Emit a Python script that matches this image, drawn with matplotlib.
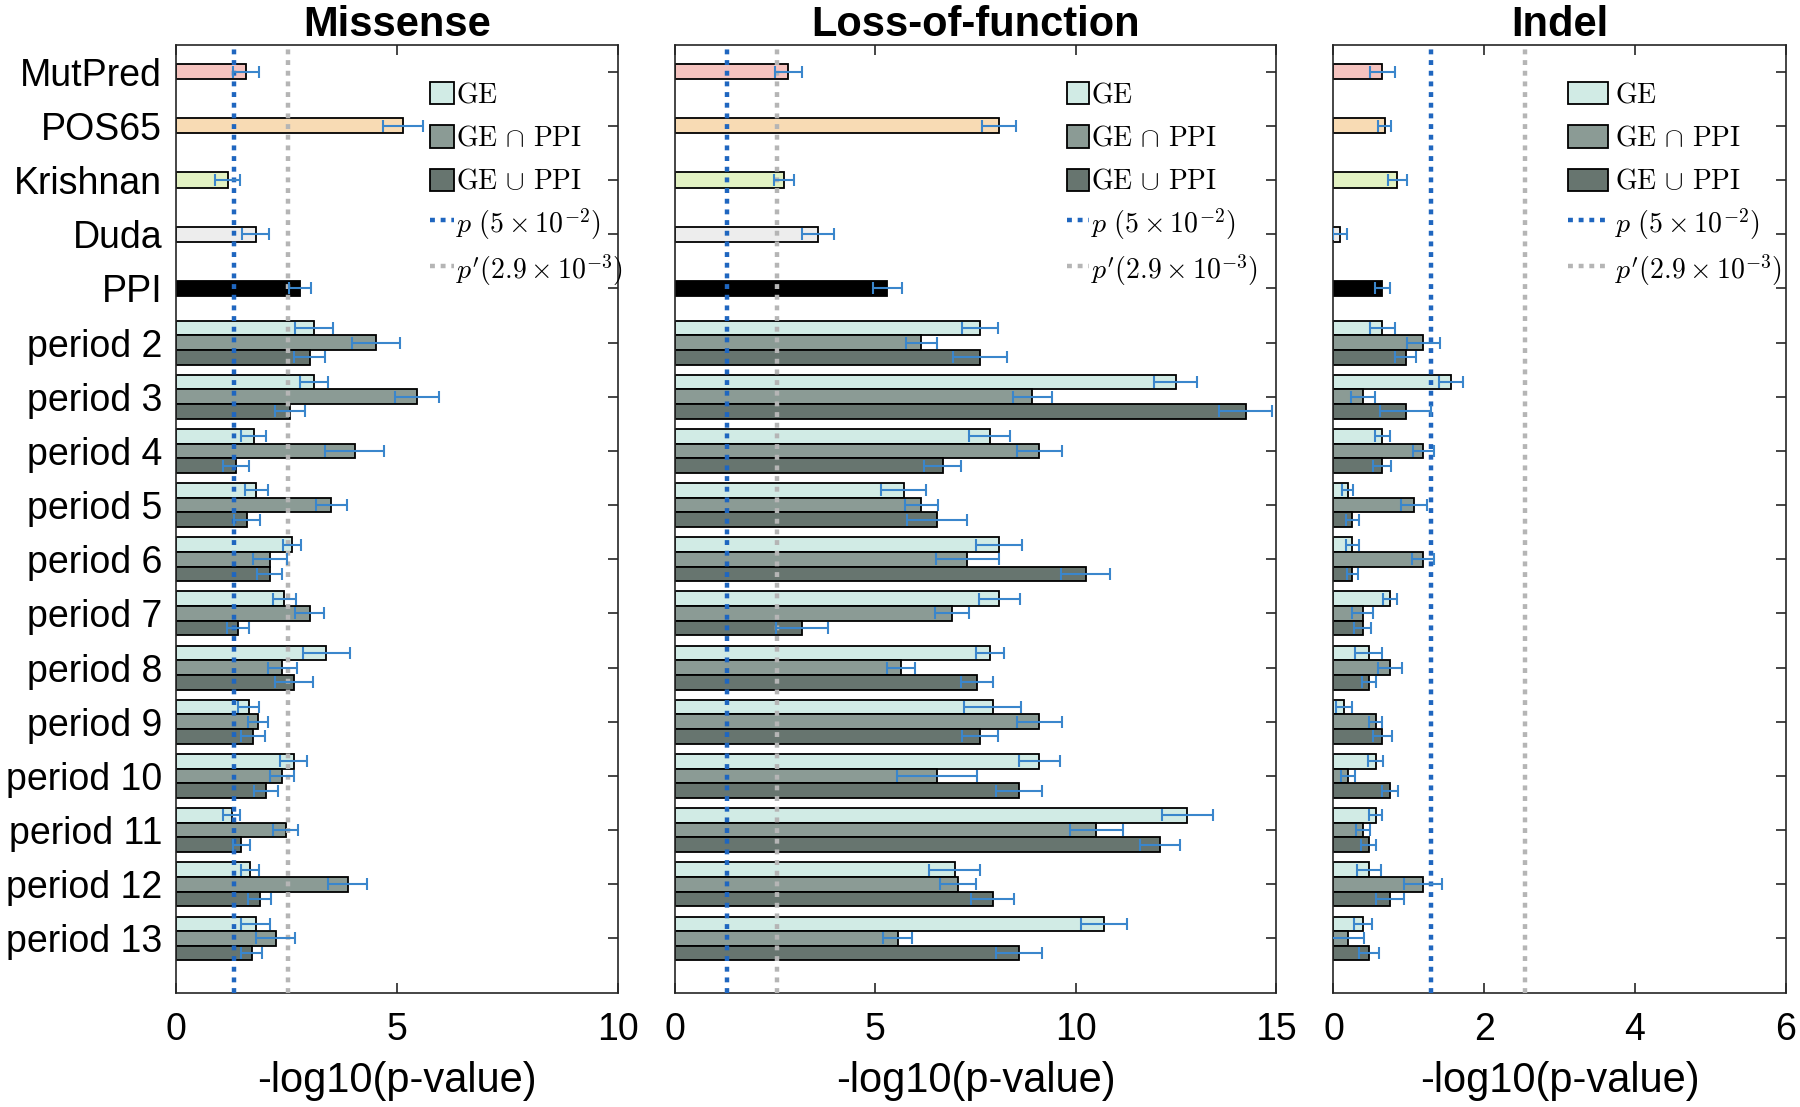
import numpy as np
import matplotlib
matplotlib.use('Agg')
import matplotlib.pyplot as plt
from matplotlib.patches import Patch, Rectangle
from matplotlib.lines import Line2D
from matplotlib.legend_handler import HandlerPatch

plt.rcParams['font.family'] = ['Liberation Sans', 'DejaVu Sans']
plt.rcParams['mathtext.fontset'] = 'cm'

# categories (top to bottom)
single_names = ['MutPred', 'POS65', 'Krishnan', 'Duda', 'PPI']
period_names = ['period %d' % i for i in range(2, 14)]
categories = single_names + period_names

single_colors = ['#F5C3BF', '#F8DBB4', '#E2F1C2', '#EDEDED', '#000000']
group_colors = ['#D1EBE5', '#8B9B95', '#67756F']
group_labels = [r'$\mathrm{GE}$', r'$\mathrm{GE}\,\cap\,\mathrm{PPI}$', r'$\mathrm{GE}\,\cup\,\mathrm{PPI}$']

# thresholds
p_val = 0.05
p_bonf = 2.9e-3

# ---- Missense ----
mis_single = [1.58, 5.14, 1.17, 1.80, 2.81]
mis_single_err = [0.30, 0.45, 0.28, 0.30, 0.25]
mis_ge = [3.12, 3.12, 1.76, 1.82, 2.62, 2.45, 3.40, 1.64, 2.66, 1.26, 1.67, 1.80]
mis_ge_err = [0.44, 0.32, 0.28, 0.26, 0.21, 0.26, 0.53, 0.23, 0.31, 0.19, 0.21, 0.32]
mis_and = [4.52, 5.45, 4.04, 3.51, 2.12, 3.02, 2.40, 1.86, 2.40, 2.48, 3.88, 2.25]
mis_and_err = [0.55, 0.50, 0.67, 0.35, 0.38, 0.33, 0.33, 0.23, 0.27, 0.29, 0.45, 0.44]
mis_or = [3.02, 2.58, 1.35, 1.61, 2.12, 1.41, 2.66, 1.75, 2.04, 1.48, 1.89, 1.71]
mis_or_err = [0.35, 0.34, 0.29, 0.29, 0.28, 0.25, 0.43, 0.27, 0.27, 0.20, 0.26, 0.23]

# ---- Loss-of-function ----
lof_single = [2.83, 8.08, 2.72, 3.57, 5.30]
lof_single_err = [0.34, 0.42, 0.26, 0.40, 0.36]
lof_ge = [7.61, 12.50, 7.86, 5.71, 8.09, 8.09, 7.86, 7.93, 9.09, 12.79, 6.98, 10.71]
lof_ge_err = [0.45, 0.54, 0.51, 0.56, 0.58, 0.51, 0.36, 0.71, 0.51, 0.64, 0.63, 0.58]
lof_and = [6.15, 8.92, 9.09, 6.15, 7.30, 6.91, 5.64, 9.09, 6.54, 10.51, 7.06, 5.56]
lof_and_err = [0.38, 0.49, 0.56, 0.42, 0.78, 0.43, 0.36, 0.56, 1.00, 0.66, 0.45, 0.36]
lof_or = [7.61, 14.24, 6.68, 6.54, 10.25, 3.16, 7.53, 7.61, 8.58, 12.10, 7.93, 8.58]
lof_or_err = [0.68, 0.66, 0.47, 0.76, 0.61, 0.65, 0.40, 0.44, 0.57, 0.50, 0.54, 0.57]

# ---- Indel ----
ind_single = [0.65, 0.68, 0.85, 0.09, 0.65]
ind_single_err = [0.17, 0.085, 0.12, 0.09, 0.10]
ind_ge = [0.65, 1.56, 0.65, 0.19, 0.25, 0.75, 0.47, 0.14, 0.56, 0.56, 0.47, 0.39]
ind_ge_err = [0.17, 0.16, 0.10, 0.075, 0.085, 0.09, 0.18, 0.11, 0.10, 0.09, 0.16, 0.12]
ind_and = [1.19, 0.39, 1.19, 1.07, 1.19, 0.39, 0.75, 0.56, 0.19, 0.39, 1.19, 0.19]
ind_and_err = [0.22, 0.16, 0.14, 0.17, 0.15, 0.14, 0.16, 0.09, 0.09, 0.09, 0.25, 0.22]
ind_or = [0.96, 0.96, 0.65, 0.25, 0.25, 0.39, 0.47, 0.65, 0.75, 0.47, 0.75, 0.47]
ind_or_err = [0.14, 0.34, 0.12, 0.085, 0.07, 0.115, 0.095, 0.13, 0.11, 0.10, 0.19, 0.13]

panels = [
    ('Missense', mis_single, mis_single_err,
     [(mis_ge, mis_ge_err), (mis_and, mis_and_err), (mis_or, mis_or_err)], [0, 5, 10]),
    ('Loss-of-function', lof_single, lof_single_err,
     [(lof_ge, lof_ge_err), (lof_and, lof_and_err), (lof_or, lof_or_err)], [0, 5, 10, 15]),
    ('Indel', ind_single, ind_single_err,
     [(ind_ge, ind_ge_err), (ind_and, ind_and_err), (ind_or, ind_or_err)], [0, 2, 4, 6]),
]

# axes rectangles and legend settings per panel
rects = [[0.0978, 0.1033, 0.2456, 0.8564],
         [0.3750, 0.1033, 0.3339, 0.8564],
         [0.7408, 0.1033, 0.2512, 0.8564]]
leg_x = [0.575, 0.652, 0.519]
leg_hl = [0.85, 0.8, 1.45]
leg_pad = [0.08, 0.08, 0.25]

err_color = '#3A86CC'
blue = '#1F66BF'
gray = '#B5B5B5'
spine_col = '#262626'
h = 0.27
leg_fs = 20


def swatch(legend, orig_handle, xdescent, ydescent, width, height, fontsize):
    # smaller box centred in a taller handle slot, so all rows get the same height
    sh = 0.8 * fontsize
    return Rectangle((-xdescent, -ydescent + (height - sh) / 2), width, sh)


fig = plt.figure(figsize=(18, 11.07), dpi=100)

for k, (title, single, single_err, groups, xt) in enumerate(panels):
    ax = fig.add_axes(rects[k])
    y_single = np.arange(1, len(single) + 1)
    y_period = np.arange(len(single) + 1, len(categories) + 1)

    ax.barh(y_single, single, height=0.28, color=single_colors,
            edgecolor='black', linewidth=1.3, zorder=2)
    ax.errorbar(single, y_single, xerr=single_err, fmt='none', ecolor=err_color,
                elinewidth=1.5, capsize=4.5, capthick=1.5, zorder=5)

    offsets = [-h, 0, h]
    for (vals, errs), off, col in zip(groups, offsets, group_colors):
        ax.barh(y_period + off, vals, height=h, color=col,
                edgecolor='black', linewidth=1.3, zorder=2)
        ax.errorbar(vals, y_period + off, xerr=errs, fmt='none', ecolor=err_color,
                    elinewidth=1.5, capsize=4.5, capthick=1.5, zorder=5)

    ax.axvline(-np.log10(p_val), color=blue, lw=3.2, ls=(0, (1.1, 1.3)), zorder=4)
    ax.axvline(-np.log10(p_bonf), color=gray, lw=3.2, ls=(0, (1.1, 1.3)), zorder=4)

    ax.set_xlim(xt[0], xt[-1])
    ax.set_ylim(18, 0.5)
    ax.set_xticks(xt)
    ax.set_yticks(np.arange(1, len(categories) + 1))
    if k == 0:
        ax.set_yticklabels(categories)
    else:
        ax.set_yticklabels([])
    ax.tick_params(axis='both', direction='in', length=7, width=1.2, color=spine_col,
                   top=True, right=True)
    ax.tick_params(axis='x', pad=14, labelsize=27)
    ax.tick_params(axis='y', pad=10, labelsize=27)
    for s in ax.spines.values():
        s.set_color(spine_col)
        s.set_linewidth(1.2)

    ax.set_title(title, fontsize=30, fontweight='bold', pad=6)
    ax.set_xlabel('-log10(p-value)', fontsize=30, labelpad=9)

    handles = [Patch(facecolor=c, edgecolor='black', linewidth=1.3) for c in group_colors]
    handles += [Line2D([], [], color=blue, lw=3.2, ls=(0, (1.1, 1.3))),
                Line2D([], [], color=gray, lw=3.2, ls=(0, (1.1, 1.3)))]
    labels = group_labels + [r'$p\ (5\times10^{-2})$', r"$p'(2.9\times10^{-3})$"]
    ax.legend(handles, labels, loc='upper left', bbox_to_anchor=(leg_x[k], 0.966),
              frameon=False, fontsize=leg_fs, handlelength=leg_hl[k], handleheight=1.45,
              handletextpad=leg_pad[k], labelspacing=0.37, borderpad=0, borderaxespad=0,
              handler_map={Patch: HandlerPatch(patch_func=swatch)})

fig.savefig('out.png', dpi=100)
